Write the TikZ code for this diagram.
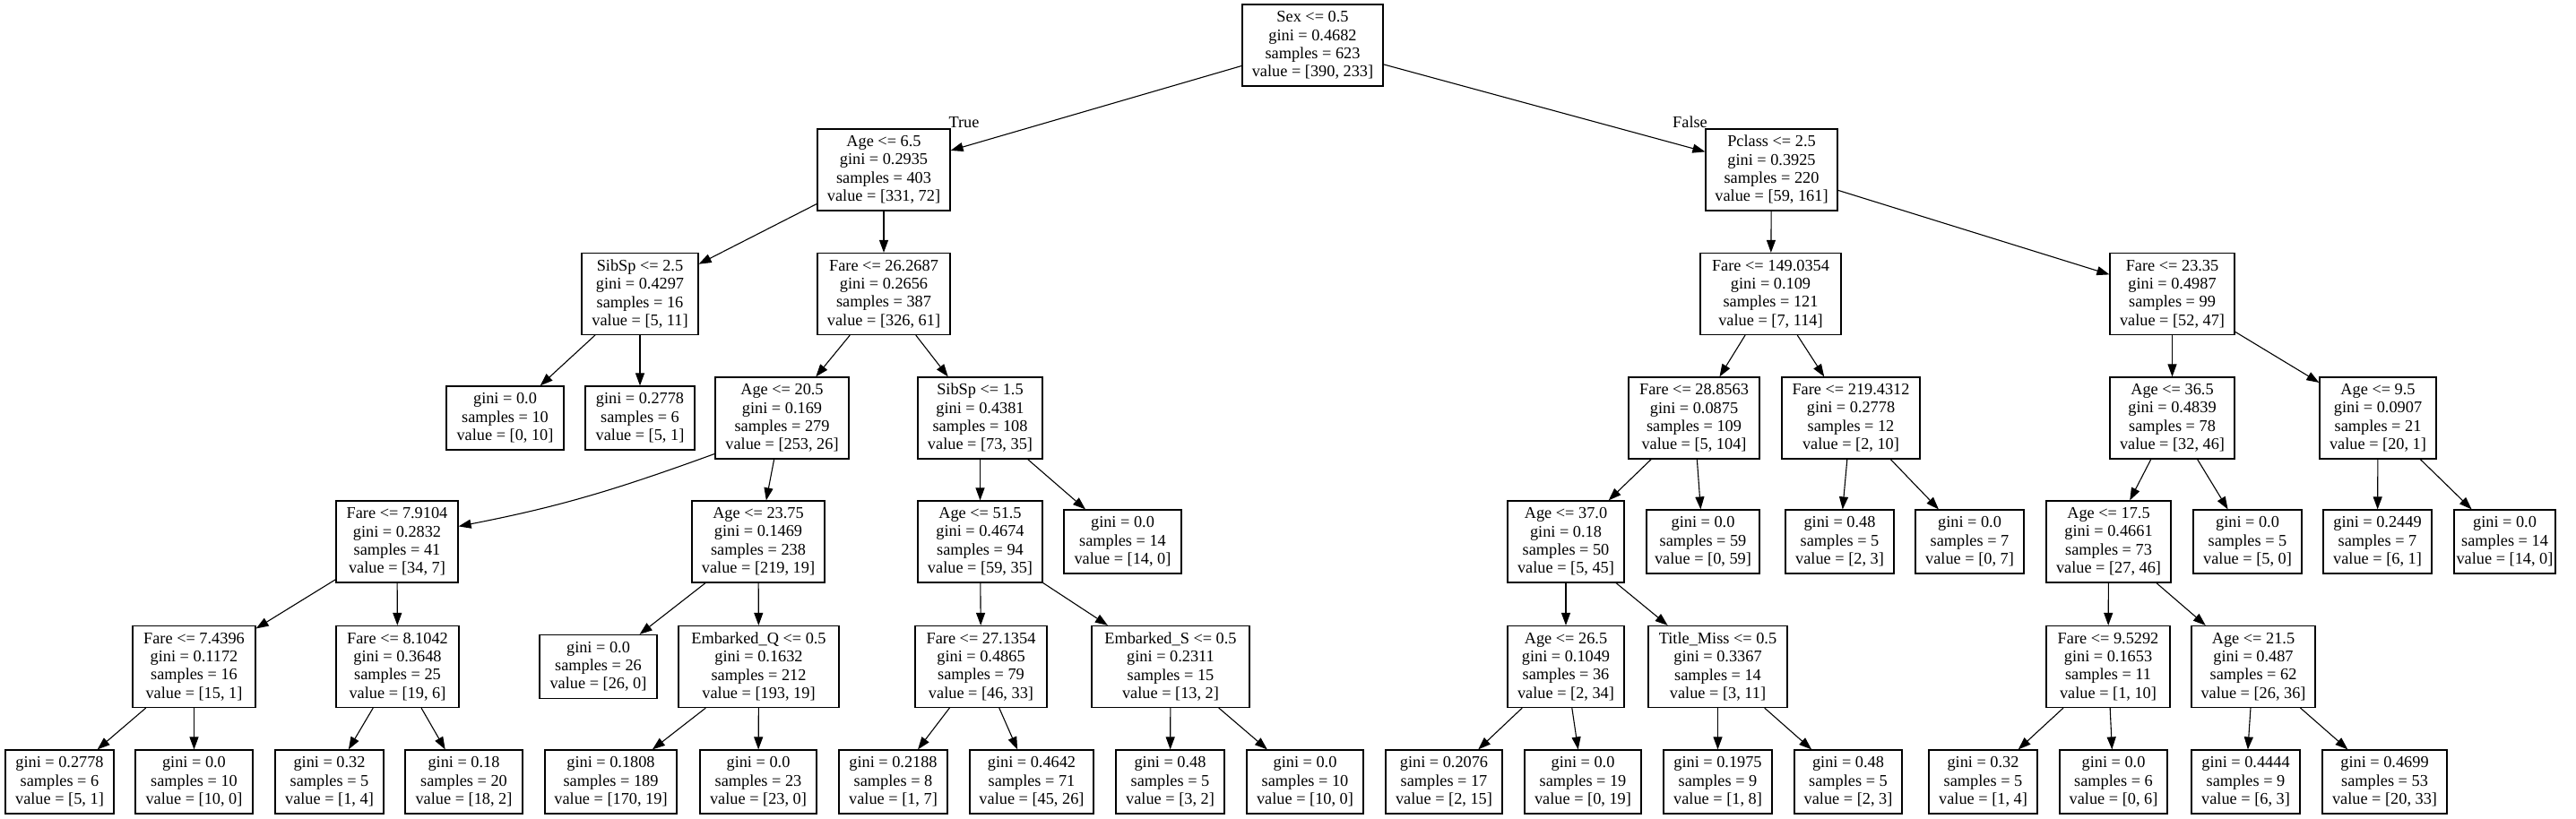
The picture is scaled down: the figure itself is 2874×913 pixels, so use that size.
\documentclass[tikz,border=0pt]{standalone}
\usepackage{fontspec}
\setmainfont{Liberation Serif}
\usetikzlibrary{arrows.meta}
\newcommand\mysplit[8]{\node[box,minimum width=#4pt] (#1) at (#2,#3) {#5\\gini = #6\\samples = #7\\value = #8};}
\newcommand\myleaf[7]{\node[leaf,minimum width=#4pt] (#1) at (#2,#3) {gini = #5\\samples = #6\\value = #7};}
\begin{document}
\begin{tikzpicture}[x=1pt,y=1pt,
  box/.style={draw, line width=1.2pt, rectangle, inner sep=0pt, align=center,
    font=\fontsize{18.3}{20.3}\selectfont, minimum height=91pt},
  leaf/.style={box, minimum height=71pt},
  edge/.style={line width=1.1pt, -{Triangle[length=14pt,width=10pt]}},
  lbl/.style={font=\fontsize{18.3}{20.3}\selectfont, inner sep=0pt, anchor=base}]
\useasboundingbox (0,0) rectangle (2874,913);
\fill[white] (0,0) rectangle (2874,913);
% level 0
\mysplit{root}{1464.5}{862.5}{157}{Sex <= 0.5}{0.4682}{623}{[390, 233]}
% level 1
\mysplit{n1}{986}{723.5}{148}{Age <= 6.5}{0.2935}{403}{[331, 72]}
\mysplit{n2}{1976.5}{723.5}{147}{Pclass <= 2.5}{0.3925}{220}{[59, 161]}
% level 2
\mysplit{n3}{714}{585}{130}{SibSp <= 2.5}{0.4297}{16}{[5, 11]}
\mysplit{n4}{986}{585}{148}{Fare <= 26.2687}{0.2656}{387}{[326, 61]}
\mysplit{n5}{1975.5}{585}{157}{Fare <= 149.0354}{0.109}{121}{[7, 114]}
\mysplit{n6}{2423.5}{585}{139}{Fare <= 23.35}{0.4987}{99}{[52, 47]}
% level 3
\myleaf{l1}{563.5}{446.5}{131}{0.0}{10}{[0, 10]}
\myleaf{l2}{714}{446.5}{122}{0.2778}{6}{[5, 1]}
\mysplit{n7}{872.5}{446.5}{149}{Age <= 20.5}{0.169}{279}{[253, 26]}
\mysplit{n8}{1093.5}{446.5}{139}{SibSp <= 1.5}{0.4381}{108}{[73, 35]}
\mysplit{n9}{1890}{446.5}{146}{Fare <= 28.8563}{0.0875}{109}{[5, 104]}
\mysplit{n10}{2065}{446.5}{154}{Fare <= 219.4312}{0.2778}{12}{[2, 10]}
\mysplit{n11}{2423.5}{446.5}{139}{Age <= 36.5}{0.4839}{78}{[32, 46]}
\mysplit{n12}{2653}{446.5}{130}{Age <= 9.5}{0.0907}{21}{[20, 1]}
% level 4
\mysplit{n13}{443}{308.5}{136}{Fare <= 7.9104}{0.2832}{41}{[34, 7]}
\mysplit{n14}{846}{308.5}{148}{Age <= 23.75}{0.1469}{238}{[219, 19]}
\mysplit{n15}{1093.5}{308.5}{139}{Age <= 51.5}{0.4674}{94}{[59, 35]}
\myleaf{l3}{1252.5}{308.5}{131}{0.0}{14}{[14, 0]}
\mysplit{n16}{1747}{308.5}{130}{Age <= 37.0}{0.18}{50}{[5, 45]}
\myleaf{l4}{1900}{308.5}{126}{0.0}{59}{[0, 59]}
\myleaf{l5}{2052.5}{308.5}{121}{0.48}{5}{[2, 3]}
\myleaf{l6}{2197.5}{308.5}{121}{0.0}{7}{[0, 7]}
\mysplit{n17}{2352.5}{308.5}{139}{Age <= 17.5}{0.4661}{73}{[27, 46]}
\myleaf{l7}{2507.5}{308.5}{121}{0.0}{5}{[5, 0]}
\myleaf{l8}{2652.5}{308.5}{121}{0.2449}{7}{[6, 1]}
\myleaf{l9}{2794.5}{308.5}{113}{0.0}{14}{[14, 0]}
% level 5
\mysplit{n18}{216.5}{169}{137}{Fare <= 7.4396}{0.1172}{16}{[15, 1]}
\mysplit{n19}{443.5}{169}{137}{Fare <= 8.1042}{0.3648}{25}{[19, 6]}
\myleaf{l10}{667.5}{169}{131}{0.0}{26}{[26, 0]}
\mysplit{n20}{846.5}{169}{179}{Embarked\_Q <= 0.5}{0.1632}{212}{[193, 19]}
\mysplit{n21}{1094.5}{169}{147}{Fare <= 27.1354}{0.4865}{79}{[46, 33]}
\mysplit{n22}{1306}{169}{176}{Embarked\_S <= 0.5}{0.2311}{15}{[13, 2]}
\mysplit{n23}{1747}{169}{130}{Age <= 26.5}{0.1049}{36}{[2, 34]}
\mysplit{n24}{1916.5}{169}{155}{Title\_Miss <= 0.5}{0.3367}{14}{[3, 11]}
\mysplit{n25}{2352}{169}{138}{Fare <= 9.5292}{0.1653}{11}{[1, 10]}
\mysplit{n26}{2514}{169}{138}{Age <= 21.5}{0.487}{62}{[26, 36]}
% level 6
\myleaf{la}{66.5}{40.5}{121}{0.2778}{6}{[5, 1]}
\myleaf{lb}{216.5}{40.5}{131}{0.0}{10}{[10, 0]}
\myleaf{lc}{367.5}{40.5}{121}{0.32}{5}{[1, 4]}
\myleaf{ld}{517.5}{40.5}{131}{0.18}{20}{[18, 2]}
\myleaf{le}{681.5}{40.5}{147}{0.1808}{189}{[170, 19]}
\myleaf{lf}{846}{40.5}{130}{0.0}{23}{[23, 0]}
\myleaf{lg}{996.5}{40.5}{121}{0.2188}{8}{[1, 7]}
\myleaf{lh}{1151}{40.5}{138}{0.4642}{71}{[45, 26]}
\myleaf{li}{1305.5}{40.5}{121}{0.48}{5}{[3, 2]}
\myleaf{lj}{1456}{40.5}{130}{0.0}{10}{[10, 0]}
\myleaf{lk}{1611}{40.5}{130}{0.2076}{17}{[2, 15]}
\myleaf{ll}{1766}{40.5}{130}{0.0}{19}{[0, 19]}
\myleaf{lm}{1916.5}{40.5}{121}{0.1975}{9}{[1, 8]}
\myleaf{ln}{2062}{40.5}{120}{0.48}{5}{[2, 3]}
\myleaf{lo}{2212.5}{40.5}{121}{0.32}{5}{[1, 4]}
\myleaf{lp}{2358}{40.5}{120}{0.0}{6}{[0, 6]}
\myleaf{lq}{2505.5}{40.5}{121}{0.4444}{9}{[6, 3]}
\myleaf{lr}{2660.5}{40.5}{139}{0.4699}{53}{[20, 33]}
% edge labels
\node[lbl] (tlabel) at (1075.5,770) {True};
\node[lbl] (flabel) at (1885.5,770) {False};
% edges
\draw[edge] (root) -- (n1);
\draw[edge] (root) -- (n2);
\draw[edge] (n1) -- (n3);
\draw[edge] (n1) -- (n4);
\draw[edge] (n2) -- (n5);
\draw[edge] (n2) -- (n6);
\draw[edge] (n3) -- (l1);
\draw[edge] (n3) -- (l2);
\draw[edge] (n4) -- (n7);
\draw[edge] (n4) -- (n8);
\draw[edge] (n5) -- (n9);
\draw[edge] (n5) -- (n10);
\draw[edge] (n6) -- (n11);
\draw[edge] (n6) -- (n12);
\draw[edge] (n7.208) to[out=200,in=11] (n13.14);
\draw[edge] (n7) -- (n14);
\draw[edge] (n8) -- (n15);
\draw[edge] (n8) -- (l3);
\draw[edge] (n9) -- (n16);
\draw[edge] (n9) -- (l4);
\draw[edge] (n10) -- (l5);
\draw[edge] (n10) -- (l6);
\draw[edge] (n11) -- (n17);
\draw[edge] (n11) -- (l7);
\draw[edge] (n12) -- (l8);
\draw[edge] (n12) -- (l9);
\draw[edge] (n13) -- (n18);
\draw[edge] (n13) -- (n19);
\draw[edge] (n14) -- (l10);
\draw[edge] (n14) -- (n20);
\draw[edge] (n15) -- (n21);
\draw[edge] (n15) -- (n22);
\draw[edge] (n16) -- (n23);
\draw[edge] (n16) -- (n24);
\draw[edge] (n17) -- (n25);
\draw[edge] (n17) -- (n26);
\draw[edge] (n18) -- (la);
\draw[edge] (n18) -- (lb);
\draw[edge] (n19) -- (lc);
\draw[edge] (n19) -- (ld);
\draw[edge] (n20) -- (le);
\draw[edge] (n20) -- (lf);
\draw[edge] (n21) -- (lg);
\draw[edge] (n21) -- (lh);
\draw[edge] (n22) -- (li);
\draw[edge] (n22) -- (lj);
\draw[edge] (n23) -- (lk);
\draw[edge] (n23) -- (ll);
\draw[edge] (n24) -- (lm);
\draw[edge] (n24) -- (ln);
\draw[edge] (n25) -- (lo);
\draw[edge] (n25) -- (lp);
\draw[edge] (n26) -- (lq);
\draw[edge] (n26) -- (lr);
\end{tikzpicture}
\end{document}
